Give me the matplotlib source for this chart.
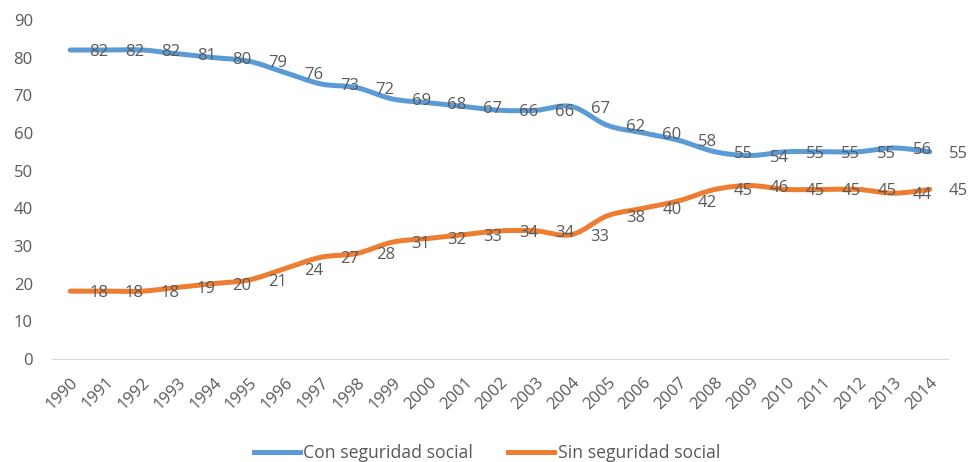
import numpy as np
import matplotlib.pyplot as plt
from matplotlib.path import Path
from matplotlib.patches import PathPatch
from matplotlib.lines import Line2D

plt.rcParams['font.family'] = ['Open Sans', 'DejaVu Sans']

years = list(range(1990, 2015))
con_seguridad = [82, 82, 82, 81, 80, 79, 76, 73, 72, 69, 68, 67, 66, 66, 67,
                 62, 60, 58, 55, 54, 55, 55, 55, 56, 55]
sin_seguridad = [18, 18, 18, 19, 20, 21, 24, 27, 28, 31, 32, 33, 34, 34, 33,
                 38, 40, 42, 45, 46, 45, 45, 45, 44, 45]

BLUE = '#5B9BD5'
ORANGE = '#ED7D31'
GREY = '#595959'


def smooth_path(x, y):
    # Catmull-Rom curve through the points, written as cubic Bezier segments
    x = np.asarray(x, float)
    y = np.asarray(y, float)
    px = np.concatenate([[x[0]], x, [x[-1]]])
    py = np.concatenate([[y[0]], y, [y[-1]]])
    verts = [(x[0], y[0])]
    codes = [Path.MOVETO]
    for i in range(1, len(px) - 2):
        c1 = (px[i] + (px[i + 1] - px[i - 1]) / 6, py[i] + (py[i + 1] - py[i - 1]) / 6)
        c2 = (px[i + 1] - (px[i + 2] - px[i]) / 6, py[i + 1] - (py[i + 2] - py[i]) / 6)
        verts += [c1, c2, (px[i + 1], py[i + 1])]
        codes += [Path.CURVE4] * 3
    return Path(verts, codes)


fig = plt.figure(figsize=(9.68, 4.62), dpi=100)
ax = fig.add_axes([0.054, 0.223, 0.925, 0.734])

xpos = np.arange(len(years))
for values, color in [(con_seguridad, BLUE), (sin_seguridad, ORANGE)]:
    patch = PathPatch(smooth_path(xpos, values), facecolor='none', edgecolor=color,
                      lw=3.6, capstyle='round', joinstyle='round')
    ax.add_patch(patch)
    for xi, v in zip(xpos, values):
        ax.annotate(str(v), (xi, v), xytext=(19, -2), textcoords='offset pixels',
                    ha='left', va='center', fontsize=12, color=GREY)

ax.set_xlim(-0.5, len(years) - 0.5)
ax.set_ylim(0, 90)
ax.set_yticks(range(0, 91, 10))
ax.set_xticks(xpos)
ax.set_xticklabels(years, rotation=45, ha='right', rotation_mode='anchor')
ax.tick_params(axis='both', length=0, labelsize=12, labelcolor=GREY)
ax.tick_params(axis='y', pad=14)
ax.tick_params(axis='x', pad=11)

for side in ['top', 'right', 'left']:
    ax.spines[side].set_visible(False)
ax.spines['bottom'].set_color('#D9D9D9')

handles = [Line2D([], [], color=BLUE, lw=3.6),
           Line2D([], [], color=ORANGE, lw=3.6)]
fig.legend(handles, ['Con seguridad social', 'Sin seguridad social'],
           loc='lower center', bbox_to_anchor=(0.503, -0.035), ncol=2, frameon=False,
           fontsize=12.7, labelcolor=GREY, handlelength=2.6, handletextpad=0.2,
           columnspacing=2.0)

fig.savefig('out.png', dpi=100)
